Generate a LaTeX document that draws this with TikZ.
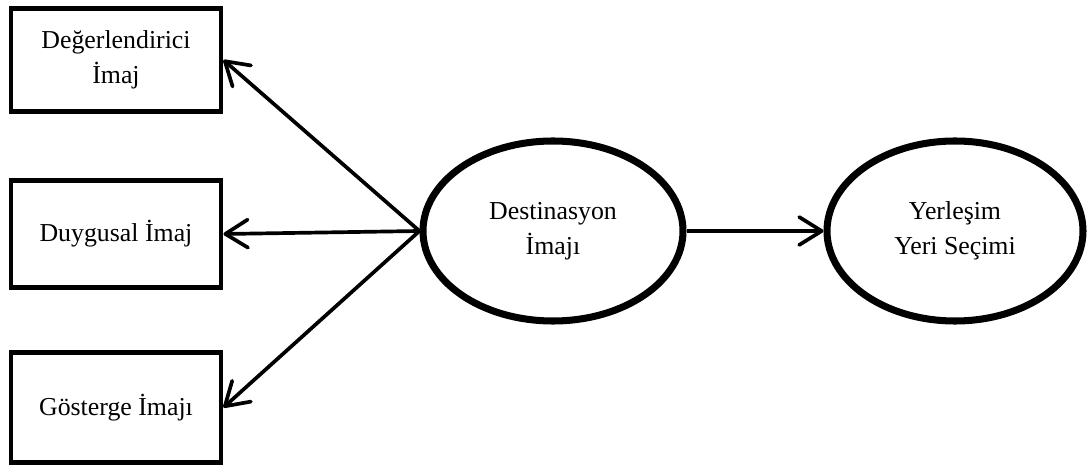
\documentclass[tikz,border=0pt]{standalone}
\usepackage{fontspec}
\setmainfont{Liberation Serif}
\usetikzlibrary{arrows.meta,positioning,shapes.geometric}

\begin{document}
\begin{tikzpicture}[node distance=8.04cm,on grid,
    font=\fontsize{14.7}{20}\selectfont,
    kutu/.style={draw,line width=2.8pt,minimum width=4.2cm,align=center},
    oval/.style={draw,ellipse,line width=4pt,minimum width=5.2cm,minimum height=3.6cm,align=center,inner sep=0pt},
    ok/.style={-{Straight Barb[round,length=4.5mm,width=5.6mm]},line width=2.1pt}]
   \useasboundingbox (0,0) rectangle (21.82,9.32);
   \node[oval] (dest) at (11.06,4.7) {Destinasyon\\İmajı};
   \node[oval,minimum width=5.12cm] (yer) [right=of dest] {Yerleşim\\Yeri Seçimi};
   \node[kutu,minimum height=2.05cm] (deger) at (2.32,8.12) {Değerlendirici\\İmaj};
   \node[kutu,minimum height=2.15cm] (duygu) at (2.32,4.64) {Duygusal İmaj};
   \node[kutu,minimum height=2.2cm] (goster) at (2.32,1.17) {Gösterge İmajı};
    \path[ok]
    (dest.west) edge (deger.east)
    (dest.west) edge (duygu.east)
    (dest.west) edge (goster.east)
    (dest) edge (yer);
\end{tikzpicture}
\end{document}
